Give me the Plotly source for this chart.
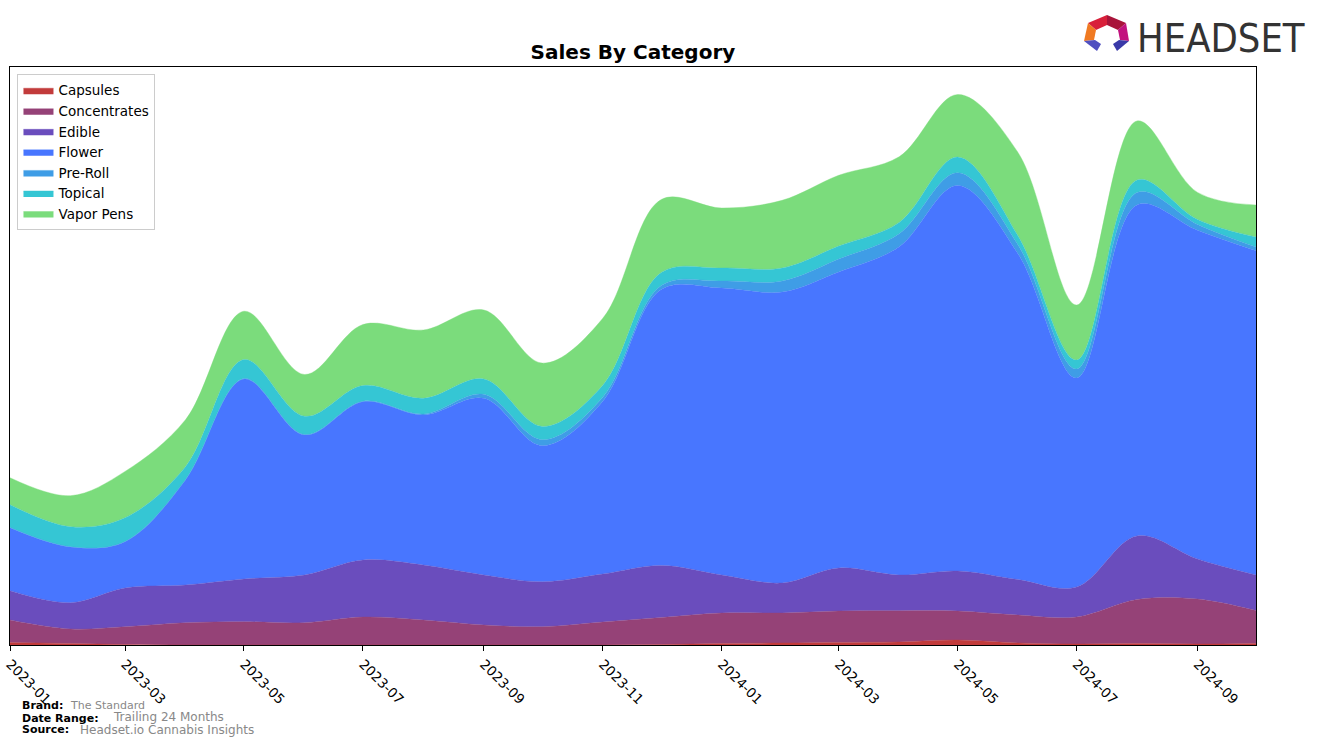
import plotly.graph_objects as go

# monthly sales by category (stack heights, arbitrary units)
months = ["2023-01-01", "2023-02-01", "2023-03-01", "2023-04-01", "2023-05-01", "2023-06-01",
          "2023-07-01", "2023-08-01", "2023-09-01", "2023-10-01", "2023-11-01", "2023-12-01",
          "2024-01-01", "2024-02-01", "2024-03-01", "2024-04-01", "2024-05-01", "2024-06-01",
          "2024-07-01", "2024-08-01", "2024-09-01", "2024-10-01"]

capsules = [2.5, 1.5, 0.5, 0, 0, 0, 0, 0, 0, 0, 0, 0.5, 1.5, 2, 2.5, 3, 5, 2, 1, 1.5, 1, 1.5]
concentrates = [22.5, 14.5, 17.8, 22.3, 23.3, 22.3, 28, 25, 20, 18.3, 23, 27, 30.5, 30, 31.5, 31.3, 29, 28, 27, 44, 45, 33]
edible = [29.3, 26.3, 38.7, 37.7, 42.7, 47.7, 57, 55, 50, 45, 48, 52, 38, 30, 43, 35.7, 40, 35.4, 30, 63.6, 40, 35.5]
flower = [63, 55.7, 46.3, 105, 200, 140, 158.3, 150, 176.7, 136, 172.7, 276, 287, 291, 296, 328.3, 385.6, 325.6, 209, 331, 328.8, 324.2]
preroll = [0.3, 0.3, 0.3, 0.3, 0.5, 0.5, 0.5, 1, 4, 6, 4, 4, 7, 11, 13, 13, 12.7, 9, 9, 12.4, 5.8, 3.8]
topical = [22.7, 20, 23.7, 13, 19, 18.3, 15.7, 15.7, 15.3, 13.3, 12, 13, 13, 13, 13, 11.3, 15.7, 9, 9, 12.6, 5, 10]
vapor_pens = [27, 31, 46.3, 47, 48.3, 41.7, 61, 68.3, 69, 63.3, 67, 73, 60, 67.7, 70.7, 65.7, 62.5, 83.3, 55, 59, 27, 32]

series = [
    ("Capsules", capsules, "#c23b3b"),
    ("Concentrates", concentrates, "#954277"),
    ("Edible", edible, "#6a4dbd"),
    ("Flower", flower, "#4876ff"),
    ("Pre-Roll", preroll, "#3f9de6"),
    ("Topical", topical, "#35c6d4"),
    ("Vapor Pens", vapor_pens, "#7bdc7c"),
]

fig = go.Figure()
for name, vals, col in series:
    fig.add_trace(go.Scatter(
        x=months, y=vals, name=name, stackgroup="one", mode="lines",
        line=dict(width=0.4, color=col, shape="spline", smoothing=1.0),
        fillcolor=col,
    ))

totals = [sum(v) for v in zip(*[s[1] for s in series])]

# helper for pixel -> paper coords (plot area 10..1256 x 67..645)
def px(x):
    return (x - 10) / 1246.0

def py(y):
    return (645 - y) / 578.0

def poly(pts):
    return "M " + " L ".join(f"{px(a)},{py(b)}" for a, b in pts) + " Z"

logo = [
    ([(1107, 15), (1088, 23), (1096, 30), (1107, 25)], "#d8203a"),
    ([(1107, 15), (1126, 23), (1118, 30), (1107, 25)], "#a8143a"),
    ([(1088, 23), (1084, 41), (1094, 40), (1096, 30)], "#f07a22"),
    ([(1126, 23), (1129, 41), (1120, 40), (1118, 30)], "#c2127e"),
    ([(1084, 41), (1095, 40), (1101, 44), (1097, 51)], "#5050c0"),
    ([(1129, 41), (1119, 40), (1113, 44), (1117, 51)], "#3a3aa8"),
]
shapes = [dict(type="path", xref="paper", yref="paper", path=poly(p),
               fillcolor=c, line=dict(width=0)) for p, c in logo]

fig.update_layout(
    width=1320, height=746,
    margin=dict(l=10, r=64, t=67, b=101),
    paper_bgcolor="white", plot_bgcolor="white",
    font=dict(family="DejaVu Sans", color="black"),
    title=dict(text="<b>Sales By Category</b>", x=0.4795, xanchor="center",
               y=1 - 52 / 746, yanchor="middle", font=dict(size=20, color="black")),
    showlegend=True,
    legend=dict(x=0.006, y=0.988, xanchor="left", yanchor="top", traceorder="normal",
                bgcolor="white", bordercolor="#cccccc", borderwidth=1,
                font=dict(size=13.5), itemwidth=30, tracegroupgap=0),
    shapes=shapes,
)

fig.update_xaxes(
    type="date", range=[months[0], months[-1]],
    tick0="2023-01-01", dtick="M2", tickformat="%Y-%m",
    tickangle=45, ticks="outside", ticklen=5, tickcolor="black",
    tickfont=dict(size=13.5, color="black"),
    showgrid=False, zeroline=False, automargin=False,
    showline=True, linecolor="black", linewidth=1, mirror=True,
)
fig.update_yaxes(
    range=[0, max(totals) * 1.05], showticklabels=False, ticks="",
    showgrid=False, zeroline=False, automargin=False,
    showline=True, linecolor="black", linewidth=1, mirror=True,
)

# logo text
fig.add_annotation(text="HEADSET", xref="paper", yref="paper", x=px(1135), y=py(38),
                   xanchor="left", yanchor="middle", showarrow=False,
                   font=dict(family="Liberation Sans Narrow, DejaVu Sans Condensed, Roboto",
                             size=39.5, color="#333333"))

# footer
foot = [
    ("<b>Brand:</b>", 20, 705, 11, "black"),
    ("The Standard", 68, 705, 11, "#888888"),
    ("<b>Date Range:</b>", 20, 718, 11, "black"),
    ("Trailing 24 Months", 111, 716.5, 12, "#888888"),
    ("<b>Source:</b>", 20, 729, 11, "black"),
    ("Headset.io Cannabis Insights", 78, 729.5, 12, "#888888"),
]
for txt, fx, fy, fs, fc in foot:
    fig.add_annotation(text=txt, xref="paper", yref="paper", x=px(fx), y=py(fy),
                       xanchor="left", yanchor="middle", showarrow=False,
                       font=dict(size=fs, color=fc))

fig.write_html("out.html", config={"displayModeBar": False},
               post_script="document.body.style.margin='0px';")
